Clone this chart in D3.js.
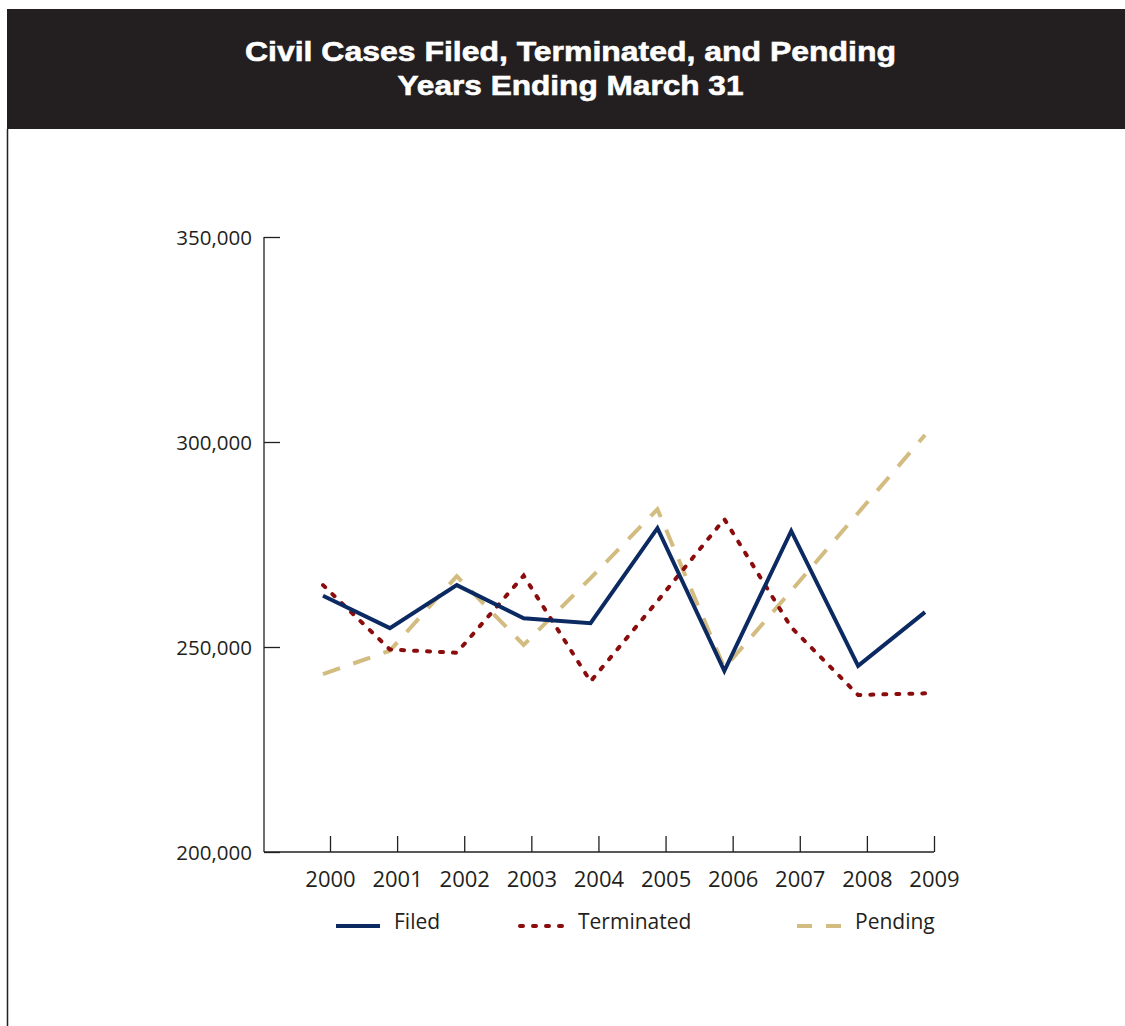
<!DOCTYPE html>
<html>
<head>
<meta charset="utf-8">
<script src="https://cdn.jsdelivr.net/npm/d3@7"></script>
<style>
  html, body { margin: 0; padding: 0; background: #fff; }
  svg { display: block; }
</style>
</head>
<body>
<svg id="chart" width="1125" height="1026"></svg>
<script>
// ---- data ----
const years = [2000, 2001, 2002, 2003, 2004, 2005, 2006, 2007, 2008, 2009];
const filed = [262500, 254600, 265100, 257000, 255800, 279000, 244200, 278300, 245400, 258500];
const terminated = [265100, 249400, 248600, 267400, 241600, 261200, 281200, 254800, 238300, 238700];
const pending = [243400, 249100, 267300, 250500, 266800, 283600, 244900, 263700, 282700, 301700];
const yTicks = [200000, 250000, 300000, 350000];
const titleLines = ["Civil Cases Filed, Terminated, and Pending", "Years Ending March 31"];
const seriesNames = ["Filed", "Terminated", "Pending"];

// ---- layout ----
const svg = d3.select("#chart");
const W = 1125, H = 1026;

// header
svg.append("rect").attr("x", 7).attr("y", 9).attr("width", W - 7).attr("height", 120).attr("fill", "#231f20");
svg.append("line").attr("x1", 7.5).attr("x2", 7.5).attr("y1", 129).attr("y2", H)
  .attr("stroke", "#231f20").attr("stroke-width", 1.5);

const titleLens = [651, 346];
titleLines.forEach((t, i) => {
  svg.append("text")
    .attr("x", 570.5).attr("y", 61 + i * 34)
    .attr("text-anchor", "middle")
    .attr("fill", "#ffffff")
    .attr("font-family", "'Liberation Sans', Arial, sans-serif")
    .attr("font-weight", "bold")
    .attr("font-size", 28)
    .attr("stroke", "#ffffff").attr("stroke-width", 0.6)
    .attr("textLength", titleLens[i])
    .attr("lengthAdjust", "spacingAndGlyphs")
    .text(t);
});

const axisX0 = 264, axisY0 = 852, axisTop = 237;
const x = d3.scalePoint().domain(years).range([330, 934]);
const xLine = d3.scalePoint().domain(years).range([323, 925]);
const y = d3.scaleLinear().domain([200000, 350000]).range([axisY0, axisTop]);

const axisColor = "#231f20";
const labelFont = "'Open Sans', 'DejaVu Sans', sans-serif";

// y axis
const yAxis = d3.axisLeft(y).tickValues(yTicks).tickFormat(d3.format(",")).tickSizeInner(-16).tickSizeOuter(0).tickPadding(12);
const gy = svg.append("g").attr("transform", `translate(${axisX0},0)`).call(yAxis);
gy.select(".domain").remove();
gy.selectAll(".tick line").attr("stroke", axisColor).attr("stroke-width", 1.3);
gy.selectAll(".tick text").attr("font-family", labelFont).attr("font-size", 20.5).attr("fill", axisColor).attr("dy", "0.36em");
svg.append("line").attr("x1", axisX0).attr("x2", axisX0).attr("y1", axisTop).attr("y2", axisY0)
  .attr("stroke", axisColor).attr("stroke-width", 1.3);

// x axis
const xAxis = d3.axisBottom(x).tickSizeInner(-16).tickSizeOuter(0).tickPadding(19);
const gx = svg.append("g").attr("transform", `translate(0,${axisY0})`).call(xAxis);
gx.select(".domain").remove();
gx.selectAll(".tick line").attr("stroke", axisColor).attr("stroke-width", 1.3);
gx.selectAll(".tick text").attr("font-family", labelFont).attr("font-size", 22).attr("fill", axisColor);
svg.append("line").attr("x1", axisX0).attr("x2", x(2009)).attr("y1", axisY0).attr("y2", axisY0)
  .attr("stroke", axisColor).attr("stroke-width", 1.3);

// series
const styles = [
  { data: filed, color: "#0c2a62", dash: null, cap: "butt" },
  { data: terminated, color: "#8a0c0c", dash: "3,10", cap: "round" },
  { data: pending, color: "#d3bc80", dash: "18,14", cap: "butt" }
];
const line = d3.line().x((d, i) => xLine(years[i])).y(d => y(d));

[2, 1, 0].forEach(k => {
  const s = styles[k];
  svg.append("path")
    .datum(s.data)
    .attr("d", line)
    .attr("fill", "none")
    .attr("stroke", s.color)
    .attr("stroke-width", 4)
    .attr("stroke-linejoin", "miter")
    .attr("stroke-linecap", s.cap)
    .attr("stroke-dasharray", s.dash);
});

// legend
const legendX = [336, 520, 797];
seriesNames.forEach((name, i) => {
  const s = styles[i];
  svg.append("line")
    .attr("x1", legendX[i]).attr("x2", legendX[i] + 44)
    .attr("y1", 926).attr("y2", 926)
    .attr("stroke", s.color).attr("stroke-width", 4)
    .attr("stroke-linecap", s.cap)
    .attr("stroke-dasharray", i === 2 ? "15,14" : s.dash);
  svg.append("text")
    .attr("x", legendX[i] + 58).attr("y", 929)
    .attr("font-family", labelFont).attr("font-size", 21).attr("fill", axisColor)
    .text(name);
});
</script>
</body>
</html>
